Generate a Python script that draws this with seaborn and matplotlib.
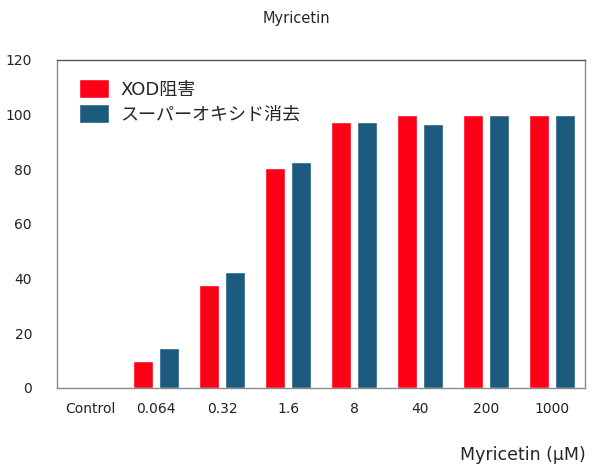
import matplotlib
matplotlib.use("Agg")
import matplotlib.pyplot as plt
import seaborn as sns
import pandas as pd

# data
doses = ["Control", "0.064", "0.32", "1.6", "8", "40", "200", "1000"]
xod_inhibition = [0, 10, 37.5, 80.5, 97.3, 99.8, 99.8, 99.8]
superoxide_scavenging = [0, 14.5, 42.5, 82.5, 97.3, 96.5, 99.8, 99.8]
series_names = ["XOD阻害", "スーパーオキシド消去"]
colors = ["#FF0016", "#1C5B7E"]

df = pd.DataFrame({
    "dose": doses * 2,
    "value": xod_inhibition + superoxide_scavenging,
    "series": [series_names[0]] * len(doses) + [series_names[1]] * len(doses),
})

sns.set_style("white")
plt.rcParams["font.family"] = ["DejaVu Sans", "Noto Sans CJK JP"]

fig = plt.figure(figsize=(5.92, 4.68), dpi=100)
ax = fig.add_axes([0.0963, 0.171, 0.892, 0.701])

sns.barplot(data=df, x="dose", y="value", hue="series", order=doses,
            hue_order=series_names, palette=colors, width=0.8, gap=0.23,
            saturation=1, ax=ax)

ax.set_ylim(0, 120)
ax.set_yticks(range(0, 121, 20))
ax.set_xlim(-0.5, len(doses) - 0.5)
ax.tick_params(axis="both", length=0, labelsize=10, colors="#222222")
ax.tick_params(axis="x", pad=10)
ax.tick_params(axis="y", pad=18)
ax.set_xlabel("")
ax.set_ylabel("")
for s in ax.spines.values():
    s.set_color("#8a8a8a")
    s.set_linewidth(1)
ax.spines["top"].set_color("#555555")

leg = ax.legend(loc="upper left", bbox_to_anchor=(0.01, 0.99), frameon=False,
                fontsize=13, handlelength=1.7, handleheight=1.2,
                labelspacing=0.3, handletextpad=0.6)

fig.text(0.5, 0.96, "Myricetin", ha="center", va="center", fontsize=10.5)
fig.text(0.99, 0.028, "Myricetin (μM)", ha="right", va="center", fontsize=12.5)

fig.savefig("out.png", dpi=100)
